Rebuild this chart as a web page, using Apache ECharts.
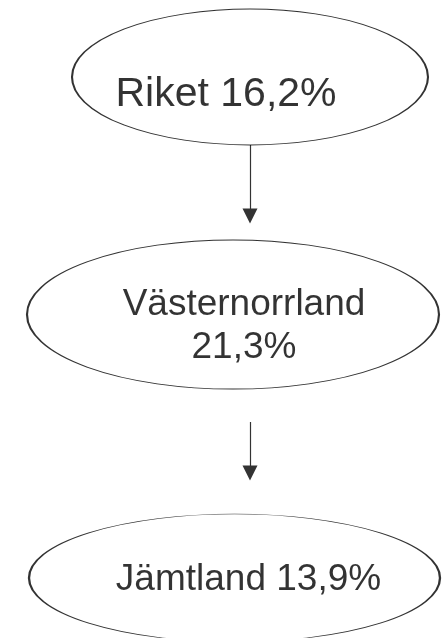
<!DOCTYPE html>
<html>
<head>
<meta charset="utf-8">
<script src="https://cdn.jsdelivr.net/npm/echarts@6/dist/echarts.min.js"></script>
<style>
html,body{margin:0;padding:0;background:#fff;}
#chart{width:448px;height:638px;}
</style>
</head>
<body>
<div id="chart"></div>
<script>
// ---- data ----
const names = ['Riket', 'Västernorrland', 'Jämtland'];
const shares = [16.2, 21.3, 13.9];
const links = [[0, 1], [1, 2]];

// ---- layout (positions / sizes / styles) ----
const nodeLayout = [
  { x: 250, y: 77, w: 356, h: 136, font: 41, offset: [-24, 18], wrap: false },
  { x: 233, y: 314.5, w: 412, h: 149, font: 37, offset: [11, 12], wrap: true },
  { x: 234.5, y: 578, w: 411, h: 128, font: 37, offset: [14, 2], wrap: false }
];
const arrowLayout = [
  { x: 250, y1: 145, y2: 216 },
  { x: 250, y1: 422, y2: 473 }
];

function fmt(v) { return v.toFixed(1).replace('.', ',') + '%'; }

const nodeData = names.map((n, i) => {
  const L = nodeLayout[i];
  return {
    name: n,
    value: [L.x, L.y, shares[i]],
    symbolSize: [L.w, L.h],
    label: {
      show: true,
      position: 'inside',
      offset: L.offset,
      color: '#000',
      textBorderWidth: 0,
      textBorderColor: 'transparent',
      fontFamily: 'Liberation Sans, Arial, sans-serif',
      fontSize: L.font,
      lineHeight: Math.round(L.font * 1.16),
      formatter: n + (L.wrap ? '\n' : ' ') + fmt(shares[i])
    }
  };
});

const lineData = links.map((lk, i) => {
  const A = arrowLayout[i];
  return { fromName: names[lk[0]], toName: names[lk[1]], coords: [[A.x, A.y1], [A.x, A.y2]] };
});

const chart = echarts.init(document.getElementById('chart'), null, { renderer: 'canvas' });
chart.setOption({
  animation: false,
  backgroundColor: '#fff',
  grid: { left: 0, right: 0, top: 0, bottom: 0 },
  xAxis: { type: 'value', min: 0, max: 448, show: false },
  yAxis: { type: 'value', min: 0, max: 638, inverse: true, show: false },
  series: [
    {
      type: 'lines',
      coordinateSystem: 'cartesian2d',
      symbol: ['none', 'triangle'],
      symbolSize: [15, 15],
      lineStyle: { color: '#333', width: 1.2, opacity: 1, curveness: 0 },
      itemStyle: { color: '#000' },
      data: lineData,
      z: 1
    },
    {
      type: 'scatter',
      symbol: 'circle',
      clip: false,
      itemStyle: { color: '#fff', borderColor: '#000', borderWidth: 1.3 },
      label: { color: '#000', fontFamily: 'Liberation Sans, Arial, sans-serif' },
      emphasis: { disabled: true },
      data: nodeData,
      z: 2
    }
  ]
});
</script>
</body>
</html>
